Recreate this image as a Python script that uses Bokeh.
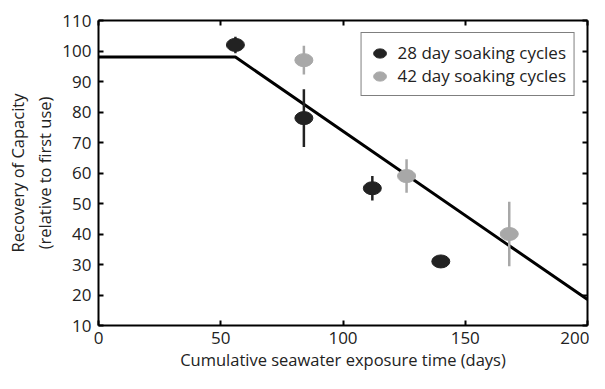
from bokeh.plotting import figure
from bokeh.models import (Range1d, LinearAxis, FixedTicker, ColumnDataSource, Legend, LegendItem,
                          CustomJSTickFormatter)
from bokeh.embed import file_html
from bokeh.resources import INLINE

# data
x28 = [56, 84, 112, 140]
y28 = [102, 78, 55, 31]
e28 = [2.7, 9.5, 4.0, 1.0]
x42 = [84, 126, 168]
y42 = [97, 59, 40]
e42 = [4.7, 5.5, 10.6]
fit_x = [0, 56, 200]
fit_y = [98, 98, 18.5]
x_ticks = [0, 50, 100, 150, 200]
y_ticks = [10, 20, 30, 40, 50, 60, 70, 80, 90, 100, 110]

DARK = "#222222"
GRAY = "#a8a8a8"
FONT = "Open Sans"

p = figure(width=589, height=373, output_backend="svg", toolbar_location=None,
           x_range=Range1d(0, 200), y_range=Range1d(10, 110),
           min_border_left=98, min_border_right=2, min_border_top=20, min_border_bottom=46)
p.grid.visible = False
p.outline_line_color = None
p.background_fill_color = "white"

def style_axis(ax, labels=True):
    ax.axis_line_color = "black"
    ax.axis_line_width = 2
    ax.major_tick_in = 5
    ax.major_tick_out = 0
    ax.major_tick_line_width = 2
    ax.minor_tick_line_color = None
    ax.major_label_text_font = FONT
    ax.major_label_text_font_size = "17px"
    ax.major_label_text_color = "#222222"
    ax.axis_label_text_font = FONT
    ax.axis_label_text_font_size = "16.5px"
    ax.axis_label_text_font_style = "normal"
    ax.axis_label_text_color = "#222222"
    if not labels:
        ax.formatter = CustomJSTickFormatter(code="return ''")
        ax.major_label_standoff = 0

xa = p.xaxis[0]
ya = p.yaxis[0]
xa.ticker = FixedTicker(ticks=x_ticks)
ya.ticker = FixedTicker(ticks=y_ticks)
style_axis(xa)
style_axis(ya)
xa.axis_label = "Cumulative seawater exposure time (days)"
ya.axis_label = "Recovery of Capacity\n(relative to first use)"
xa.major_label_standoff = 6
xa.axis_label_standoff = 1
ya.major_label_standoff = 7
ya.axis_label_standoff = 3

top = LinearAxis(ticker=FixedTicker(ticks=x_ticks))
right = LinearAxis(ticker=FixedTicker(ticks=y_ticks))
style_axis(top, labels=False)
style_axis(right, labels=False)
p.add_layout(top, "above")
p.add_layout(right, "right")

# fit line
p.line(fit_x, fit_y, line_color="black", line_width=3)

s28 = ColumnDataSource(dict(x=x28, y=y28, lo=[a - b for a, b in zip(y28, e28)], hi=[a + b for a, b in zip(y28, e28)]))
s42 = ColumnDataSource(dict(x=x42, y=y42, lo=[a - b for a, b in zip(y42, e42)], hi=[a + b for a, b in zip(y42, e42)]))

p.segment(x0="x", y0="lo", x1="x", y1="hi", source=s42, line_color=GRAY, line_width=2.5)
p.segment(x0="x", y0="lo", x1="x", y1="hi", source=s28, line_color=DARK, line_width=2.5)
r42 = p.ellipse(x="x", y="y", width=18, height=13, width_units="screen", height_units="screen",
                source=s42, fill_color=GRAY, line_color=GRAY)
r28 = p.ellipse(x="x", y="y", width=18, height=13, width_units="screen", height_units="screen",
                source=s28, fill_color=DARK, line_color=DARK)

legend = Legend(items=[LegendItem(label="28 day soaking cycles", renderers=[r28]),
                       LegendItem(label="42 day soaking cycles", renderers=[r42])],
                location="top_right", margin=12)
legend.border_line_color = "black"
legend.border_line_width = 1.5
legend.label_text_font = FONT
legend.label_text_font_size = "17px"
legend.label_text_color = "#222222"
legend.glyph_width = 20
legend.glyph_height = 16
legend.label_height = 16
legend.spacing = 0
legend.padding = 8
legend.label_standoff = 8
legend.background_fill_alpha = 1
p.add_layout(legend)

open("out.html", "w").write(file_html(p, INLINE))
